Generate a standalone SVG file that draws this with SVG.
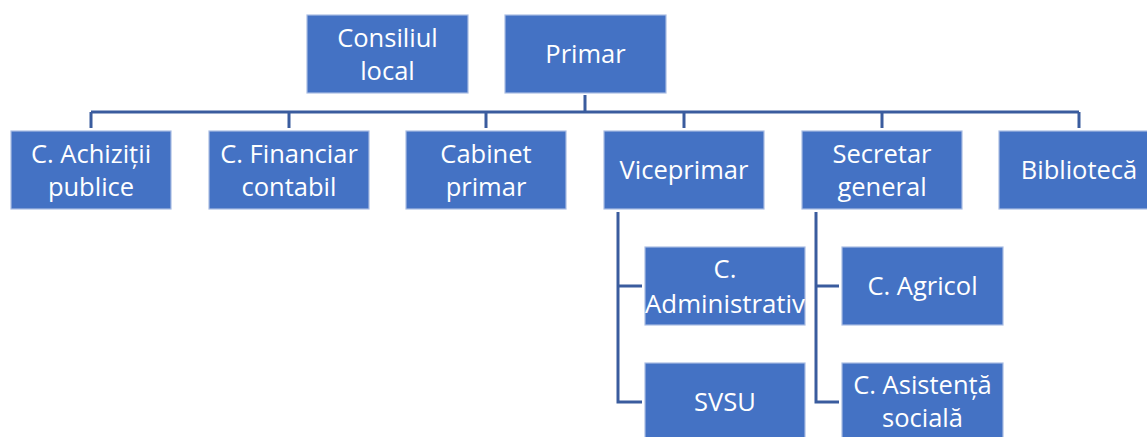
<svg xmlns="http://www.w3.org/2000/svg" width="1147" height="437" viewBox="0 0 1147 437">
<style>
.box{fill:#4472C4;stroke:#A9BDE3;stroke-width:1.2}
.t{font-family:"Open Sans","Noto Sans",sans-serif;font-size:25.5px;fill:#fff;text-anchor:middle}
.c{fill:none;stroke:#3A5C9E;stroke-width:3}
</style>
<rect width="1147" height="437" fill="#fff"/>
<g id="connectors">
<path class="c" d="M585,95V112M91,112H1079M91,112V128M289,112V128M486,112V128M684,112V128M882,112V128M1079,112V128"/>
<path class="c" d="M618,212V402H642M618,286H642"/>
<path class="c" d="M816,212V402H839M816,286H839"/>
</g>
<g id="consiliul"><rect class="box" x="307" y="15" width="161" height="78"/><text class="t" x="387.5" y="47">Consiliul</text><text class="t" x="387.5" y="80">local</text></g>
<g id="primar"><rect class="box" x="505" y="15" width="161" height="78"/><text class="t" x="585.5" y="63">Primar</text></g>
<g id="achizitii"><rect class="box" x="11" y="131" width="160" height="78"/><text class="t" x="91" y="163">C. Achiziții</text><text class="t" x="91" y="196">publice</text></g>
<g id="financiar"><rect class="box" x="209" y="131" width="160" height="78"/><text class="t" x="289" y="163">C. Financiar</text><text class="t" x="289" y="196">contabil</text></g>
<g id="cabinet"><rect class="box" x="406" y="131" width="160" height="78"/><text class="t" x="486" y="163">Cabinet</text><text class="t" x="486" y="196">primar</text></g>
<g id="viceprimar"><rect class="box" x="604" y="131" width="160" height="78"/><text class="t" x="684" y="179">Viceprimar</text></g>
<g id="secretar"><rect class="box" x="802" y="131" width="160" height="78"/><text class="t" x="882" y="163">Secretar</text><text class="t" x="882" y="196">general</text></g>
<g id="biblioteca"><rect class="box" x="999" y="131" width="160" height="78"/><text class="t" x="1079" y="179">Bibliotecă</text></g>
<g id="administrativ"><rect class="box" x="645" y="247" width="160" height="78"/><text class="t" x="725" y="278">C.</text><text class="t" x="725" y="313" textLength="160" lengthAdjust="spacingAndGlyphs">Administrativ</text></g>
<g id="svsu"><rect class="box" x="645" y="363" width="160" height="78"/><text class="t" x="725" y="411">SVSU</text></g>
<g id="agricol"><rect class="box" x="842" y="247" width="161" height="78"/><text class="t" x="922.5" y="295">C. Agricol</text></g>
<g id="asistenta"><rect class="box" x="842" y="363" width="161" height="78"/><text class="t" x="922.5" y="394">C. Asistență</text><text class="t" x="922.5" y="427">socială</text></g>
</svg>
